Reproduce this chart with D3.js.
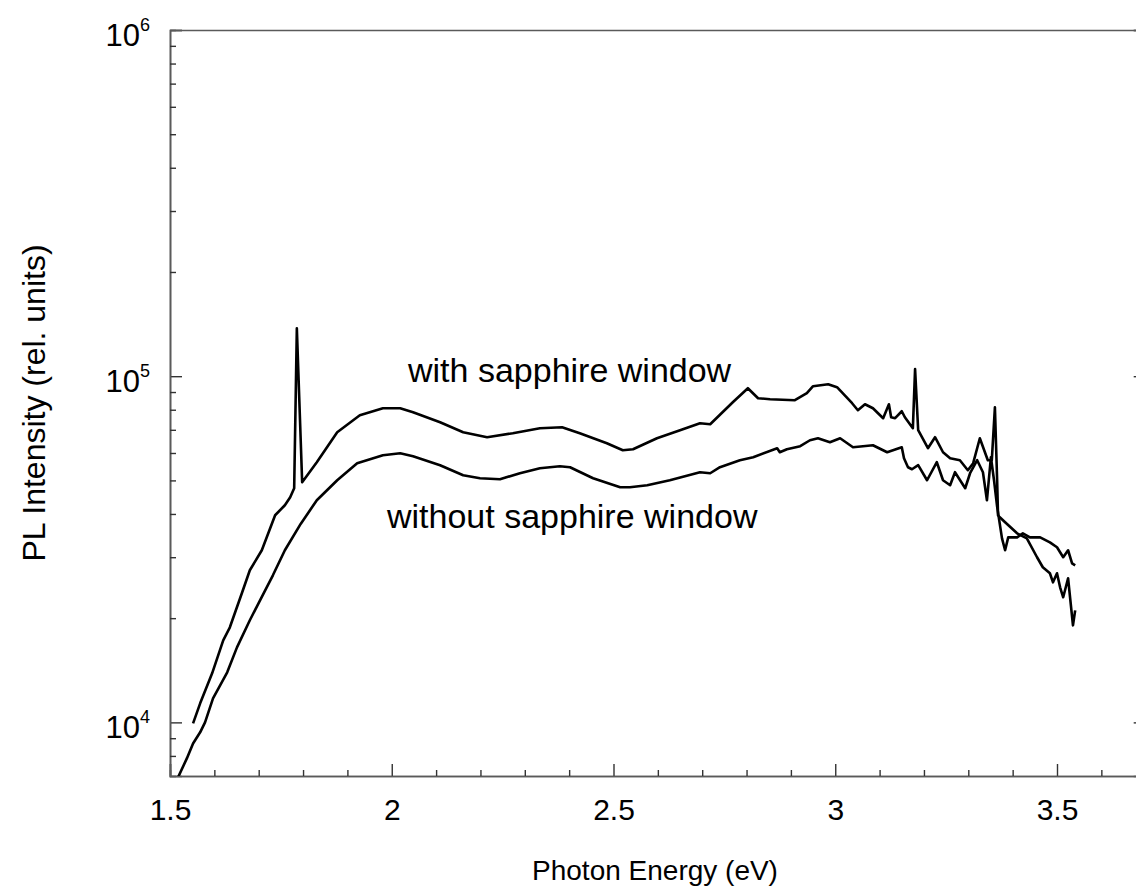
<!DOCTYPE html>
<html>
<head>
<meta charset="utf-8">
<script src="https://cdn.jsdelivr.net/npm/d3@7"></script>
<style>
  body { margin: 0; background: #fff; }
  svg { display: block; }
  svg text { font-family: Arial, "Liberation Sans", sans-serif; }
</style>
</head>
<body>
<svg id="chart" width="1136" height="895"></svg>
<script>
// values (photon energy in eV, PL intensity in rel. units)
const withEnergy = [1.552, 1.568, 1.595, 1.620, 1.635, 1.662, 1.680, 1.707, 1.737, 1.759, 1.771, 1.780, 1.786, 1.798,
  1.831, 1.877, 1.928, 1.980, 2.019, 2.048, 2.109, 2.161, 2.215, 2.273, 2.334, 2.384, 2.424, 2.485, 2.521, 2.544,
  2.598, 2.650, 2.695, 2.718, 2.769, 2.803, 2.826, 2.853, 2.909, 2.936, 2.950, 2.984, 3.004, 3.038, 3.051, 3.067,
  3.085, 3.108, 3.121, 3.126, 3.135, 3.150, 3.157, 3.175, 3.180, 3.187, 3.209, 3.225, 3.243, 3.259, 3.281, 3.299,
  3.311, 3.326, 3.344, 3.353, 3.360, 3.365, 3.367, 3.371, 3.383, 3.410, 3.432, 3.455, 3.468, 3.484, 3.491, 3.500,
  3.507, 3.514, 3.525, 3.536, 3.541];
const withIntensity = [9930, 11350, 13860, 17260, 18820, 23600, 27500, 31420, 39660, 42390, 44700, 47460, 137600, 49390,
  56430, 68890, 77150, 80810, 80810, 78700, 73630, 68890, 66630, 68430, 70750, 71220, 68430, 64030, 61100, 61520,
  66190, 69810, 73140, 72650, 84100, 92310, 86360, 85780, 85220, 89290, 93550, 94810, 92930, 83540, 79740, 82980,
  80810, 75610, 82980, 76110, 75610, 79210, 76110, 70750, 104800, 69810, 61930, 66630, 60300, 57940, 57190, 53510,
  56060, 66190, 57190, 57190, 81350, 50050, 39660, 39130, 37840, 35170, 34010, 29990, 28060, 26960, 25380, 26960,
  24560, 22980, 26080, 19070, 21070];

const withoutEnergy = [1.515, 1.538, 1.552, 1.568, 1.579, 1.597, 1.629, 1.651, 1.680, 1.703, 1.732, 1.759, 1.795,
  1.831, 1.877, 1.922, 1.980, 2.019, 2.048, 2.109, 2.161, 2.199, 2.244, 2.289, 2.334, 2.379, 2.402, 2.454, 2.515,
  2.537, 2.576, 2.627, 2.695, 2.718, 2.740, 2.785, 2.815, 2.869, 2.875, 2.891, 2.921, 2.943, 2.961, 2.988, 3.011,
  3.040, 3.085, 3.117, 3.150, 3.155, 3.164, 3.173, 3.187, 3.207, 3.229, 3.243, 3.259, 3.270, 3.293, 3.304, 3.320,
  3.333, 3.342, 3.351, 3.358, 3.365, 3.376, 3.383, 3.390, 3.410, 3.423, 3.439, 3.462, 3.484, 3.500, 3.514, 3.525,
  3.534, 3.541];
const withoutIntensity = [6800, 7870, 8690, 9360, 10000, 11730, 13950, 16470, 19720, 22520, 26600, 31420, 37500,
  43810, 50050, 56060, 59120, 59900, 58730, 55320, 51750, 50720, 50390, 52440, 54220, 54950, 54580, 50720, 47780,
  47780, 48420, 50050, 52800, 52440, 54580, 57190, 58340, 61930, 60300, 61520, 62760, 65310, 66190, 64450, 66190,
  62340, 63180, 60300, 62340, 57940, 54580, 53860, 55320, 50050, 56430, 50050, 48420, 52800, 47460, 52440, 57190,
  52800, 43810, 58340, 50050, 42000, 34010, 31420, 34240, 34240, 35170, 34240, 34240, 33120, 32040, 29990, 31420,
  28810, 28430];

const xMajorTicks = [1.5, 2, 2.5, 3, 3.5];
const xMinorTicks = [1.6, 1.7, 1.8, 1.9, 2.1, 2.2, 2.3, 2.4, 2.6, 2.7, 2.8, 2.9, 3.1, 3.2, 3.3, 3.4, 3.6];
const yMajorTicks = [1e4, 1e5, 1e6];
const yMajorExponents = [4, 5, 6];
const yMinorTicks = [8000, 9000, 2e4, 3e4, 4e4, 5e4, 6e4, 7e4, 8e4, 9e4, 2e5, 3e5, 4e5, 5e5, 6e5, 7e5, 8e5, 9e5];

const xLabel = "Photon Energy (eV)";
const yLabel = "PL Intensity (rel. units)";
const seriesLabels = ["with sapphire window", "without sapphire window"];

const margin = { left: 170, top: 30, bottom: 776 };
const plotRight = 1145.7;

const svg = d3.select("#chart");

const x = d3.scaleLinear().domain([1.5, 3.7]).range([margin.left, plotRight]);
const y = d3.scaleLog().domain([7000, 1e6]).range([margin.bottom, margin.top]);

const axisColor = "#5a5a5a";

svg.append("clipPath")
  .attr("id", "plotClip")
  .append("rect")
  .attr("x", margin.left)
  .attr("y", margin.top)
  .attr("width", plotRight - margin.left)
  .attr("height", margin.bottom - margin.top);

function styleAxis(g) {
  g.attr("font-family", null);
  g.select(".domain").attr("stroke", axisColor).attr("stroke-width", 1.6);
  g.selectAll(".tick line").attr("stroke", "#333").attr("stroke-width", 1.4);
}

// bottom axis: major + minor ticks pointing inward
const xAxisG = svg.append("g")
  .attr("transform", `translate(0,${margin.bottom})`)
  .call(d3.axisBottom(x).tickValues(xMajorTicks).tickSize(-12).tickFormat(d3.format("")))
  .call(styleAxis);

xAxisG.selectAll(".tick text")
  .attr("y", 44)
  .attr("dy", null)
  .attr("font-size", 30)
  .attr("fill", "#000");

svg.append("g")
  .attr("transform", `translate(0,${margin.bottom})`)
  .call(d3.axisBottom(x).tickValues(xMinorTicks).tickSize(-6).tickFormat(""))
  .call(styleAxis);

// left axis
const yAxisG = svg.append("g")
  .attr("transform", `translate(${margin.left},0)`)
  .call(d3.axisLeft(y).tickValues(yMajorTicks).tickSize(-12))
  .call(styleAxis);

yAxisG.selectAll(".tick text").each(function (d, i) {
  const t = d3.select(this);
  t.text(null)
    .attr("x", -20)
    .attr("dy", null)
    .attr("y", 15)
    .attr("fill", "#000")
    .attr("text-anchor", "end");
  t.append("tspan").attr("font-size", 31).text("10");
  t.append("tspan").attr("font-size", 18).attr("dy", -15).text(yMajorExponents[i]);
});

svg.append("g")
  .attr("transform", `translate(${margin.left},0)`)
  .call(d3.axisLeft(y).tickValues(yMinorTicks).tickSize(-6).tickFormat(""))
  .call(styleAxis);

// right axis (mostly outside the visible window)
svg.append("g")
  .attr("transform", `translate(${plotRight},0)`)
  .call(d3.axisRight(y).tickValues(yMajorTicks).tickSize(-12).tickFormat(""))
  .call(styleAxis);

svg.append("g")
  .attr("transform", `translate(${plotRight},0)`)
  .call(d3.axisRight(y).tickValues(yMinorTicks).tickSize(-6).tickFormat(""))
  .call(styleAxis);

// top frame line
svg.append("g")
  .attr("transform", `translate(0,${margin.top})`)
  .call(d3.axisTop(x).tickValues([]).tickSizeOuter(0))
  .call(styleAxis);

const line = d3.line()
  .x(function (d) { return x(d[0]); })
  .y(function (d) { return y(d[1]); });

const withData = d3.zip(withEnergy, withIntensity);
const withoutData = d3.zip(withoutEnergy, withoutIntensity);

const curves = svg.append("g").attr("clip-path", "url(#plotClip)");

curves.append("path")
  .datum(withData)
  .attr("fill", "none")
  .attr("stroke", "#000")
  .attr("stroke-width", 2.6)
  .attr("stroke-linejoin", "round")
  .attr("d", line);

curves.append("path")
  .datum(withoutData)
  .attr("fill", "none")
  .attr("stroke", "#000")
  .attr("stroke-width", 2.6)
  .attr("stroke-linejoin", "round")
  .attr("d", line);

// series annotations
svg.append("text")
  .attr("x", 408)
  .attr("y", 382)
  .attr("font-size", 34)
  .text(seriesLabels[0]);

svg.append("text")
  .attr("x", 387)
  .attr("y", 528)
  .attr("font-size", 34)
  .text(seriesLabels[1]);

// axis titles
svg.append("text")
  .attr("x", 655)
  .attr("y", 880)
  .attr("text-anchor", "middle")
  .attr("font-size", 28)
  .text(xLabel);

svg.append("text")
  .attr("transform", "translate(45,403) rotate(-90)")
  .attr("text-anchor", "middle")
  .attr("font-size", 32)
  .text(yLabel);
</script>
</body>
</html>
